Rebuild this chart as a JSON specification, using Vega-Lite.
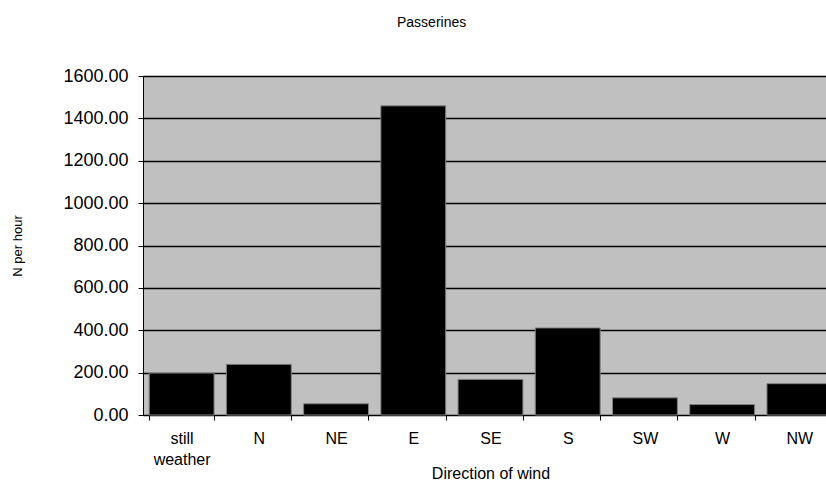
{
  "$schema": "https://vega.github.io/schema/vega-lite/v6.json",
  "autosize": {"type": "none"},
  "width": 695,
  "height": 339,
  "padding": {"left": 143, "top": 76, "right": 0, "bottom": 71},
  "background": "white",
  "title": {
    "text": "Passerines",
    "anchor": "start",
    "frame": "group",
    "dx": 254,
    "offset": 37,
    "fontSize": 14,
    "font": "Liberation Sans",
    "fontWeight": "normal",
    "color": "black"
  },
  "data": {
    "values": [
      {"dir": "still weather", "n": 198},
      {"dir": "N", "n": 239},
      {"dir": "NE", "n": 53},
      {"dir": "E", "n": 1459},
      {"dir": "SE", "n": 168},
      {"dir": "S", "n": 411},
      {"dir": "SW", "n": 81},
      {"dir": "W", "n": 49},
      {"dir": "NW", "n": 148}
    ]
  },
  "mark": {"type": "bar", "color": "black", "stroke": "#808080", "strokeWidth": 1},
  "encoding": {
    "x": {
      "field": "dir",
      "type": "nominal",
      "sort": null,
      "scale": {"paddingInner": 0.16, "paddingOuter": 0.08},
      "axis": {
        "title": "Direction of wind",
        "titleFont": "Liberation Sans",
        "titleFontSize": 16,
        "titleFontWeight": "normal",
        "titleColor": "black",
        "titlePadding": -2,
        "labelAngle": 0,
        "labelFont": "Liberation Sans",
        "labelFontSize": 16,
        "labelColor": "black",
        "labelPadding": 10,
        "labelLineHeight": 21,
        "labelExpr": "datum.value == 'still weather' ? ['still', 'weather'] : datum.label",
        "tickBand": "extent",
        "tickSize": 5,
        "tickColor": "black",
        "domainColor": "black",
        "grid": false
      }
    },
    "y": {
      "field": "n",
      "type": "quantitative",
      "scale": {"domain": [0, 1600], "nice": false},
      "axis": {
        "title": "N per hour",
        "titleFont": "Liberation Sans",
        "titleFontSize": 13,
        "titleFontWeight": "normal",
        "titleColor": "black",
        "titlePadding": 38,
        "values": [0, 200, 400, 600, 800, 1000, 1200, 1400, 1600],
        "format": ".2f",
        "labelFont": "Liberation Sans",
        "labelFontSize": 18,
        "labelColor": "black",
        "labelPadding": 10,
        "tickSize": 5,
        "tickColor": "black",
        "domainColor": "black",
        "grid": true,
        "gridColor": "black",
        "gridWidth": 1.3
      }
    }
  },
  "config": {
    "view": {"fill": "#C0C0C0", "stroke": "#808080", "strokeWidth": 1}
  }
}
